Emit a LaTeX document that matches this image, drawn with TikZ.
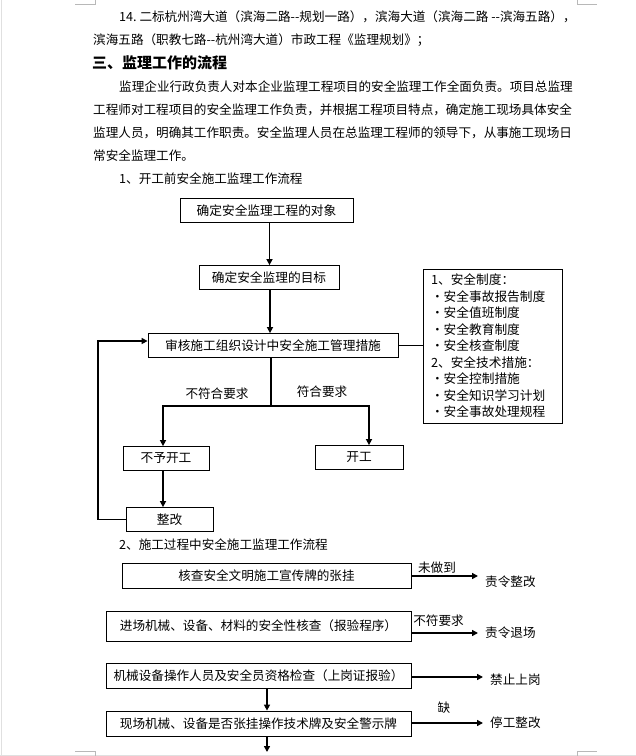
\documentclass[tikz,border=0pt]{standalone}
\usepackage{fontspec}
\setmainfont{Noto Sans CJK SC}
\usetikzlibrary{arrows.meta}
\definecolor{pagemark}{rgb}{0.72,0.72,0.72}
\definecolor{pageedge}{rgb}{0.88,0.88,0.88}

\begin{document}
\begin{tikzpicture}[x=1pt,y=-1pt,
        flowbox/.style={draw,line width=0.8pt,minimum height=24pt,inner sep=2pt,font=\fontsize{12.7}{14}\selectfont},
        checkbox/.style={draw,line width=0.8pt,minimum width=305pt,minimum height=25pt,inner sep=2pt,font=\fontsize{12.6}{14}\selectfont},
        bodyline/.style={anchor=west,inner sep=0pt,font=\fontsize{12.6}{14}\selectfont},
        target/.style={anchor=west,inner xsep=7pt,inner ysep=0pt,font=\fontsize{12.6}{14}\selectfont},
        note/.style={inner sep=0pt,font=\fontsize{12.6}{14}\selectfont},
        flowarrow/.style={line width=1.6pt,-{Triangle[length=6pt,width=6pt]}},
        flowline/.style={line width=1.6pt}]
        \useasboundingbox (0,0) rectangle (636,756);
        % page corners
        \draw[pageedge] (1,0) -- (1,756);
        \draw[pageedge] (0,755) -- (636,755);
        \draw[pagemark] (75,4) -- (95,4) -- (95,0);
        \draw[pagemark] (577,0) -- (577,4) -- (597,4);
        \draw[pagemark] (75,751) -- (95,751) -- (95,756);
        \draw[pagemark] (577,756) -- (577,751) -- (597,751);

        % Add text above the flow
        \node[bodyline] (item) at (119,17) {14.\ 二标杭州湾大道（滨海二路-{}-规划一路），滨海大道（滨海二路 -{}-滨海五路），};
        \node[bodyline] (itemb) at (93,40) {滨海五路（职教七路-{}-杭州湾大道）市政工程《监理规划》；};
        \node[bodyline,font=\fontsize{15}{18}\selectfont\bfseries] (heading) at (92,63) {三、监理工作的流程};
        \node[bodyline] (para) at (119,87) {监理企业行政负责人对本企业监理工程项目的安全监理工作全面负责。项目总监理};
        \node[bodyline] (parab) at (93,110) {工程师对工程项目的安全监理工作负责，并根据工程项目特点，确定施工现场具体安全};
        \node[bodyline] (parac) at (93,133) {监理人员，明确其工作职责。安全监理人员在总监理工程师的领导下，从事施工现场日};
        \node[bodyline] (parad) at (93,156) {常安全监理工作。};
        \node[bodyline] (before) at (119,179) {1、开工前安全施工监理工作流程};

        % flow before start
        \node[flowbox,minimum width=173pt] (object) at (266.5,210.5) {确定安全监理工程的对象};
        \node[flowbox,minimum width=140pt] (goal) at (269,277.5) {确定安全监理的目标};
        \node[flowbox,minimum width=250pt] (audit) at (273,345.5) {审核施工组织设计中安全施工管理措施};
        \node[draw,line width=0.8pt,text width=123pt,inner xsep=8pt,inner ysep=5pt,align=left,
            font=\fontsize{12.7}{16.5}\selectfont] (measures) at (492.5,346)
            {1、安全制度：\\・安全事故报告制度\\・安全值班制度\\・安全教育制度\\・安全核查制度\\2、安全技术措施：\\・安全控制措施\\・安全知识学习计划\\・安全事故处理规程};
        \node[flowbox,minimum width=86pt] (nostart) at (166,458.5) {不予开工};
        \node[flowbox,minimum width=88pt] (start) at (359,457.5) {开工};
        \node[flowbox,minimum width=87pt] (fix) at (169.5,519.5) {整改};
        \node[note] (fail) at (217,394) {不符合要求};
        \node[note] (pass) at (322,392) {符合要求};
        \coordinate (fork) at (271,406);
        \coordinate (back) at (98,518);

        \draw[flowarrow] ([xshift=3pt]object.south) -- ([xshift=3pt]object.south |- goal.north);
        \draw[flowarrow] ([xshift=1pt]goal.south) -- ([xshift=1pt]goal.south |- audit.north);
        \draw[flowline] (audit.east) -- (audit.east -| measures.west);
        \draw[flowline] (fork |- audit.south) -- (fork);
        \draw[flowarrow] (fork) -| ([xshift=-3pt]nostart.north);
        \draw[flowarrow] (fork) -| ([xshift=10pt]start.north);
        \draw[flowarrow] ([xshift=-3pt]nostart.south) -- ([xshift=-3pt]nostart.south |- fix.north);
        \draw[flowarrow] (fix.west) -- (fix.west -| back) |- ([yshift=4.5pt]audit.west);

        % flow during construction
        \node[bodyline] (during) at (119,545) {2、施工过程中安全施工监理工作流程};
        \node[checkbox,minimum width=289pt] (sign) at (266.5,575.5) {核查安全文明施工宣传牌的张挂};
        \node[checkbox,minimum height=30pt] (equip) at (258.5,626) {进场机械、设备、材料的安全性核查（报验程序）};
        \node[checkbox] (staff) at (258.5,675.5) {机械设备操作人员及安全员资格检查（上岗证报验）};
        \node[checkbox] (plate) at (258.5,723.5) {现场机械、设备是否张挂操作技术牌及安全警示牌};
        \node[target] (rectify) at (478,582) {责令整改};
        \node[target] (leave) at (478,633) {责令退场};
        \node[target] (forbid) at (483,680) {禁止上岗};
        \node[target] (halt) at (483,723) {停工整改};
        \node[note] (undone) at (437,568) {未做到};
        \node[note] (unfit) at (438.5,621) {不符要求};
        \node[note] (lack) at (444,708) {缺};
        \coordinate (more) at (267,752);

        \draw[flowarrow] ([yshift=-0.5pt]sign.east) -- ([yshift=-0.5pt]sign.east -| rectify.west);
        \draw[flowarrow] ([yshift=-7pt]equip.east) -- ([yshift=-7pt]equip.east -| leave.west);
        \draw[flowarrow] ([yshift=-1.5pt]staff.east) -- ([yshift=-1.5pt]staff.east -| forbid.west);
        \draw[flowarrow] ([yshift=0.5pt]plate.east) -- ([yshift=0.5pt]plate.east -| halt.west);
        \draw[flowarrow] ([xshift=8.5pt]staff.south) -- ([xshift=8.5pt]plate.north);
        \draw[flowarrow] ([xshift=8.5pt]plate.south) -- (more);
    \end{tikzpicture}
\end{document}
